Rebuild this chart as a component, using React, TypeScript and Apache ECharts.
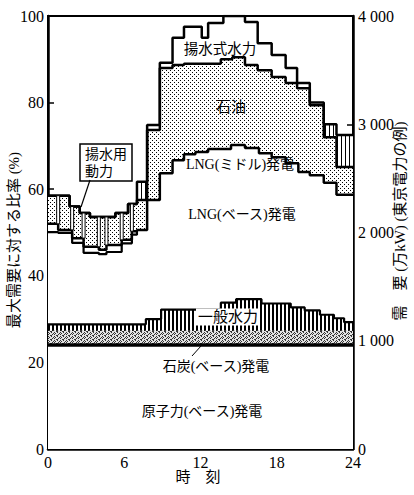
import React, { useEffect, useRef } from 'react';
import * as echarts from 'echarts';

// Breakpoints [hour, % of peak demand]; each value holds until the next breakpoint.
const totalDemand: [number, number][] = [
  [0, 58.5], [1.7, 56], [2.5, 54.5], [3.3, 53.6], [5.3, 54.5], [6.3, 56.6], [7.0, 61.7], [7.8, 74.8],
  [8.8, 89.2], [9.8, 95], [10.7, 97.5], [12.1, 95], [12.6, 98.4], [13.8, 100], [15.5, 98.6], [16.5, 93.7],
  [17.6, 91], [18.7, 88], [19.6, 84.5], [20.6, 80], [21.7, 75], [22.7, 72.5], [24, 72.5],
];
const pumpingBox: [number, number][] = [
  [0, 0], [7.0, 61.7], [7.8, 0], [21.7, 75], [22.7, 72.5], [24, 72.5],
];
const oilTop: [number, number][] = [
  [0, 58.5], [1.7, 56], [2.5, 54.5], [3.3, 53.6], [5.3, 54.5], [6.3, 56.6], [7.0, 57.5], [7.8, 73.7],
  [8.8, 88], [9.8, 88.7], [10.7, 89], [13.6, 90], [14.5, 90.5], [15.5, 88.7], [16.5, 87.5], [17.6, 85.9],
  [18.7, 84.5], [19.6, 83.3], [20.6, 79.4], [21.7, 72], [22.7, 65.1], [24, 65.1],
];
const lngMiddleTop: [number, number][] = [
  [0, 52], [0.8, 50.6], [1.9, 48.7], [2.8, 46.7], [4.0, 46], [4.6, 47.1], [5.8, 48.3], [6.6, 50.3],
  [7.0, 50.6], [7.8, 57.5], [8.8, 63.7], [9.8, 66.7], [10.7, 68.1], [11.6, 68.6], [12.6, 69.3], [14.4, 70.2],
  [15.5, 69.5], [16.6, 68.3], [17.6, 67.4], [18.7, 66], [19.7, 64], [20.6, 63.2], [21.7, 61.5], [22.7, 58.7],
  [24, 58.7],
];
const lngBaseTopNight: [number, number][] = [
  [0, 50.1], [0.8, 49.9], [1.9, 47.6], [2.8, 45.3], [4.0, 45], [4.6, 45.5], [5.8, 47.5], [6.6, 49.5], [7.0, 50.6],
];
const hydroTop: [number, number][] = [
  [0, 28.8], [7.7, 30], [8.9, 32.2], [13.6, 33.8], [14.8, 34.6], [16.8, 33.6], [19.1, 32.7], [20.2, 32],
  [21.4, 31], [22.5, 30.2], [23.3, 29.3], [24, 29.3],
];
const coalTop: [number, number][] = [[0, 27.3], [24, 27.3]];
const nuclearTop: [number, number][] = [[0, 24], [24, 24]];

// Night-time pumping power columns (separators between columns)
const pumpSlitHours = [0.8, 1.9, 2.8, 4.0, 4.6, 5.8, 6.6];
const pumpSlitLow = [52, 50.6, 48.7, 46.7, 47.1, 48.3, 50.3];
const pumpSlitHigh = [58.5, 56, 54.5, 53.6, 53.6, 54.5, 56.6];

const rightTickLabels = ['0', '1 000', '2 000', '3 000', '4 000'];

const SERIF = "'Liberation Serif', 'DejaVu Serif', serif";
const JP = "'Liberation Serif', 'Noto Sans CJK JP', sans-serif";

function makePattern(w: number, h: number, bg: string, px: [number, number][], fg = '#000') {
  const c = document.createElement('canvas');
  c.width = w;
  c.height = h;
  const ctx = c.getContext('2d')!;
  ctx.fillStyle = bg;
  ctx.fillRect(0, 0, w, h);
  ctx.fillStyle = fg;
  px.forEach(([x, y]) => ctx.fillRect(x, y, 1, 1));
  return { image: c, repeat: 'repeat' } as any;
}

export default function App() {
  const ref = useRef<HTMLDivElement>(null);
  useEffect(() => {
    if (!ref.current) return;
    const chart = echarts.init(ref.current, null, { renderer: 'svg' });

    const dots = makePattern(4, 4, '#fff', [[0, 0], [2, 2]]);
    const vlines = makePattern(4, 2, '#fff', [[0, 0], [0, 1], [1, 0], [1, 1]]);
    const pumpLines = makePattern(4, 2, '#fff', [[1, 0], [1, 1]]);
    const coal = makePattern(6, 4, '#e2e2e2', [[0, 0], [3, 0], [1, 1], [4, 2], [2, 3], [5, 1], [0, 2], [3, 3]], '#333');

    const line = (name: string, data: [number, number][], fill: any, width = 2, lineColor = '#000') => ({
      type: 'line',
      name,
      data,
      step: 'end',
      symbol: 'none',
      silent: true,
      z: 2,
      lineStyle: { color: lineColor, width },
      areaStyle: fill ? { color: fill, opacity: 1 } : undefined,
    });

    const text = (t: string, x: number, y: number, size = 14, extra: any = {}) => ({
      type: 'text',
      x,
      y,
      z: 100,
      silent: true,
      ...extra,
      style: {
        text: t,
        fill: '#000',
        fontSize: size,
        fontFamily: JP,
        align: 'center',
        verticalAlign: 'middle',
        textAlign: 'center',
        textVerticalAlign: 'middle',
        ...(extra.style || {}),
      },
    });

    chart.setOption({
      animation: false,
      backgroundColor: '#fff',
      grid: { left: 48, right: 61, top: 16, bottom: 46, show: true, borderColor: '#000', borderWidth: 2 },
      xAxis: {
        type: 'value',
        min: 0,
        max: 24,
        interval: 6,
        axisLine: { show: true, lineStyle: { color: '#000', width: 2.5 } },
        axisTick: { show: true, inside: true, length: 6, lineStyle: { color: '#000', width: 1.5 } },
        axisLabel: { color: '#000', fontSize: 16, fontFamily: SERIF, margin: 5 },
        splitLine: { show: false },
      },
      yAxis: [
        {
          type: 'value',
          min: 0,
          max: 100,
          interval: 20,
          axisLine: { show: true, lineStyle: { color: '#000', width: 2.5 } },
          axisTick: { show: true, inside: true, length: 6, lineStyle: { color: '#000', width: 1.5 } },
          axisLabel: { color: '#000', fontSize: 16, fontFamily: SERIF, margin: 4 },
          splitLine: { show: false },
        },
        {
          type: 'value',
          min: 0,
          max: 4000,
          interval: 1000,
          position: 'right',
          axisLine: { show: true, lineStyle: { color: '#000', width: 2.5 } },
          axisTick: { show: true, inside: true, length: 6, lineStyle: { color: '#000', width: 1.5 } },
          axisLabel: {
            color: '#000',
            fontSize: 16,
            fontFamily: SERIF,
            margin: 5,
            formatter: (v: number) => rightTickLabels[Math.round(v / 1000)],
          },
          splitLine: { show: false },
        },
      ],
      series: [
        line('総需要', totalDemand, '#fff', 2.5),
        line('揚水用動力', pumpingBox, pumpLines, 0),
        line('石油', oilTop, dots, 2.5),
        line('LNG(ミドル)', lngMiddleTop, '#fff', 2.5),
        line('LNG(ベース)', lngBaseTopNight, null, 2.2),
        line('一般水力', hydroTop, vlines, 2.2),
        line('石炭', coalTop, coal, 0),
        line('原子力', nuclearTop, '#fff', 3.5),
        {
          type: 'custom',
          name: '揚水用動力(夜間)',
          silent: true,
          z: 3,
          data: pumpSlitHours.map((h, i) => [h, pumpSlitLow[i], pumpSlitHigh[i]]),
          encode: { x: 0, y: [1, 2] },
          renderItem: (_params: any, api: any) => {
            const lo = api.coord([api.value(0), api.value(1)]);
            const hi = api.coord([api.value(0), api.value(2)]);
            return {
              type: 'rect',
              shape: { x: lo[0] - 1.5, y: hi[1], width: 3, height: lo[1] - hi[1] },
              style: { fill: '#fff', stroke: '#000', lineWidth: 1 },
            };
          },
        },
      ],
      graphic: [
        text('揚水式水力', 220, 49, 14.5),
        text('石油', 231, 107, 15),
        text('LNG(ミドル)発電', 240, 164, 14),
        text('LNG(ベース)発電', 242, 214, 14),
        text('一般水力', 228, 317, 15, { style: { backgroundColor: '#fff', padding: [1, 2] } }),
        text('石炭(ベース)発電', 216, 366, 14),
        text('原子力(ベース)発電', 202, 411, 14),
        { type: 'line', z: 100, silent: true, shape: { x1: 201, y1: 346, x2: 192, y2: 356 }, style: { stroke: '#000', lineWidth: 1 } },
        { type: 'line', z: 100, silent: true, shape: { x1: 90, y1: 180, x2: 81, y2: 207 }, style: { stroke: '#000', lineWidth: 1.2 } },
        { type: 'rect', z: 99, silent: true, shape: { x: 80, y: 144, width: 52, height: 37 }, style: { fill: '#fff', stroke: '#000', lineWidth: 1.5 } },
        text('揚水用', 106, 154, 14),
        text('動力', 99, 171, 14),
        text('最大需要に対する比率 (%)', 14, 240, 15, { rotation: Math.PI / 2 }),
        text('需　要 (万kW) (東京電力の例)', 400, 221, 15, { rotation: Math.PI / 2 }),
        text('時　刻', 198, 477, 15),
      ],
    });
    return () => chart.dispose();
  }, []);
  return (
    <div
      ref={ref}
      style={{ position: 'absolute', left: 0, top: 0, width: 414, height: 495, background: '#fff' }}
    />
  );
}
